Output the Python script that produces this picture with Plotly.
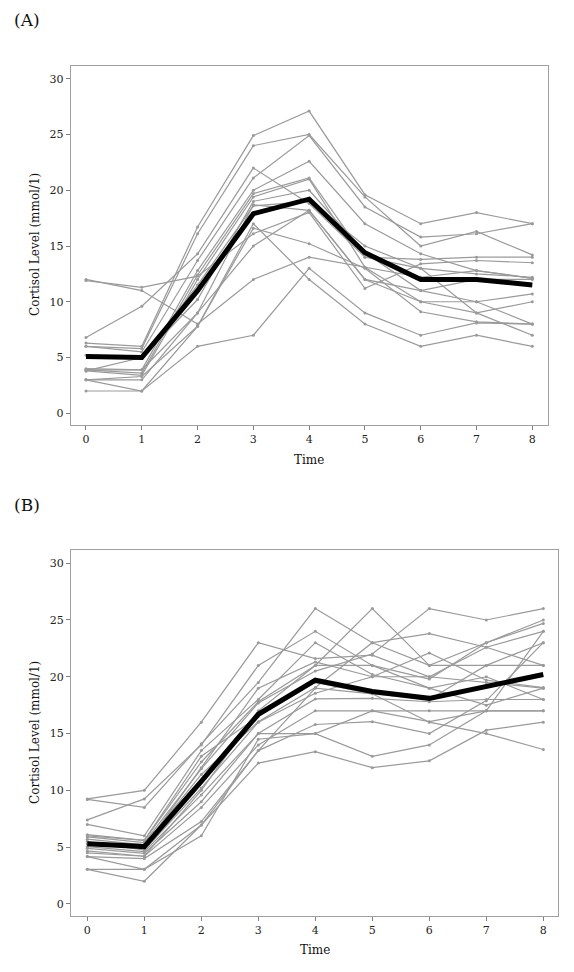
import plotly.graph_objects as go

time = [0, 1, 2, 3, 4, 5, 6, 7, 8]
y_ticks = [0, 5, 10, 15, 20, 25, 30]

# Panel A individual subjects (Cortisol level)
a_subjects = [
    [12.0, 11.0, 8.0, 12.0, 14.0, 13.1, 12.2, 12.8, 12.1],
    [11.9, 11.3, 12.3, 16.1, 18.0, 11.2, 13.4, 13.7, 13.5],
    [6.8, 9.6, 14.3, 22.0, 18.8, 14.0, 13.0, 12.5, 12.2],
    [6.3, 6.0, 16.7, 24.9, 27.1, 19.6, 17.0, 18.0, 17.0],
    [6.0, 5.8, 16.1, 24.0, 25.0, 19.4, 15.0, 16.3, 14.2],
    [6.0, 5.5, 13.7, 21.1, 24.9, 18.5, 15.8, 16.1, 17.0],
    [3.9, 3.9, 12.8, 20.0, 22.6, 17.0, 14.3, 12.8, 12.1],
    [3.9, 3.6, 12.4, 19.7, 21.1, 14.0, 13.8, 14.0, 14.0],
    [3.8, 3.4, 12.0, 19.4, 21.0, 13.1, 10.0, 9.0, 10.0],
    [3.8, 5.0, 10.2, 19.0, 20.0, 14.4, 11.0, 12.0, 12.0],
    [3.0, 3.0, 9.0, 18.7, 18.2, 12.0, 10.0, 10.0, 10.7],
    [3.0, 3.3, 7.8, 16.6, 15.2, 13.0, 9.1, 8.2, 8.0],
    [2.0, 2.0, 6.0, 7.0, 13.0, 9.0, 7.0, 8.1, 8.0],
    [3.0, 2.0, 7.8, 17.0, 12.0, 8.0, 6.0, 7.0, 6.0],
    [4.0, 3.9, 9.0, 15.0, 18.2, 12.0, 11.0, 10.0, 8.0],
    [5.2, 5.0, 11.5, 18.6, 19.0, 15.0, 13.0, 9.0, 7.0],
]
a_mean = [5.1, 5.0, 11.0, 17.9, 19.2, 14.4, 12.0, 12.0, 11.5]

# Panel B individual subjects
b_subjects = [
    [9.25, 10.0, 16.0, 23.0, 21.6, 21.9, 20.0, 22.6, 24.0],
    [9.2, 8.5, 14.1, 19.5, 26.0, 23.0, 21.0, 21.0, 21.0],
    [7.4, 9.25, 14.0, 21.0, 24.0, 21.0, 19.8, 23.0, 25.0],
    [7.0, 6.0, 13.5, 18.0, 23.0, 20.2, 19.0, 20.0, 18.0],
    [6.1, 5.6, 12.5, 17.8, 21.0, 26.0, 21.0, 23.0, 24.7],
    [5.9, 5.4, 11.9, 17.7, 20.5, 22.0, 26.0, 25.0, 26.0],
    [5.7, 5.2, 11.4, 16.05, 19.05, 23.0, 23.8, 22.6, 21.0],
    [5.5, 4.75, 10.2, 16.0, 18.55, 20.0, 22.1, 19.7, 19.05],
    [5.05, 4.6, 9.6, 15.0, 18.05, 18.1, 17.8, 18.0, 18.0],
    [4.9, 4.46, 9.0, 15.0, 15.0, 17.0, 16.05, 17.0, 17.0],
    [4.67, 4.2, 8.5, 14.0, 17.0, 17.0, 17.0, 17.0, 17.0],
    [4.17, 4.0, 7.25, 13.5, 15.8, 16.05, 15.0, 17.9, 23.0],
    [4.17, 3.05, 6.95, 12.4, 13.4, 12.0, 12.6, 15.3, 16.0],
    [3.05, 3.05, 6.0, 14.5, 15.0, 13.0, 14.0, 17.0, 24.0],
    [3.05, 2.0, 6.95, 13.5, 19.0, 18.5, 16.0, 15.0, 13.6],
    [5.3, 5.0, 12.0, 19.0, 21.3, 20.0, 20.0, 19.5, 19.0],
    [6.0, 5.6, 13.0, 16.5, 19.5, 18.5, 18.0, 21.0, 23.0],
    [4.5, 4.2, 10.0, 17.0, 21.0, 21.0, 19.0, 17.5, 19.0],
]
b_mean = [5.3, 5.05, 10.8, 16.7, 19.7, 18.7, 18.1, 19.1, 20.2]

GRAY = "#9a9a9a"
FONT = "DejaVu Serif"

fig = go.Figure()

for subj in a_subjects:
    fig.add_trace(go.Scatter(x=time, y=subj, mode="lines+markers", xaxis="x", yaxis="y",
                             line=dict(color=GRAY, width=1.2),
                             marker=dict(color=GRAY, size=3), showlegend=False, hoverinfo="skip"))
fig.add_trace(go.Scatter(x=time, y=a_mean, mode="lines", xaxis="x", yaxis="y",
                         line=dict(color="black", width=5), showlegend=False))

for subj in b_subjects:
    fig.add_trace(go.Scatter(x=time, y=subj, mode="lines+markers", xaxis="x2", yaxis="y2",
                             line=dict(color=GRAY, width=1.2),
                             marker=dict(color=GRAY, size=3), showlegend=False, hoverinfo="skip"))
fig.add_trace(go.Scatter(x=time, y=b_mean, mode="lines", xaxis="x2", yaxis="y2",
                         line=dict(color="black", width=5), showlegend=False))

axis_common = dict(showline=True, linecolor="#a0a0a0", linewidth=1, mirror=True,
                   showgrid=False, zeroline=False, ticks="outside", ticklen=4,
                   tickcolor="#808080", tickfont=dict(family=FONT, size=11, color="#222"))

# page body has an 8px margin; positions below are in window pixels
OFF = 8
W, H = 574 - OFF, 972 - OFF


def px(x):
    return (x - OFF) / W


def py(y):
    return 1 - (y - OFF) / H


fig.update_layout(
    width=W, height=H, margin=dict(l=0, r=0, t=0, b=0),
    paper_bgcolor="white", plot_bgcolor="white",
    xaxis=dict(domain=[px(70.7), px(547.7)], range=[-0.274, 8.276], tickvals=time,
               anchor="y", **axis_common),
    yaxis=dict(domain=[py(425), py(66)], range=[-1.05, 31.14], tickvals=y_ticks,
               anchor="x", **axis_common),
    xaxis2=dict(domain=[px(71), px(558)], range=[-0.286, 8.258], tickvals=time,
                anchor="y2", **axis_common),
    yaxis2=dict(domain=[py(916), py(550)], range=[-1.06, 31.16], tickvals=y_ticks,
                anchor="x2", **axis_common),
)

ann_font = dict(family=FONT, size=12, color="#111")
annotations = [
    dict(text="(A)", x=px(12), y=py(20), xanchor="left", yanchor="middle",
         font=dict(family=FONT, size=17, color="#111")),
    dict(text="(B)", x=px(12), y=py(505), xanchor="left", yanchor="middle",
         font=dict(family=FONT, size=17, color="#111")),
    dict(text="Time", x=px(309), y=py(460), xanchor="center", yanchor="middle", font=ann_font),
    dict(text="Time", x=px(315), y=py(950), xanchor="center", yanchor="middle", font=ann_font),
    dict(text="Cortisol Level (mmol/1)", x=px(35), y=py(245), textangle=-90,
         xanchor="center", yanchor="middle", font=ann_font),
    dict(text="Cortisol Level (mmol/1)", x=px(35), y=py(733), textangle=-90,
         xanchor="center", yanchor="middle", font=ann_font),
]
for a in annotations:
    a.update(xref="paper", yref="paper", showarrow=False)
fig.update_layout(annotations=annotations)

fig.write_html("out.html")
